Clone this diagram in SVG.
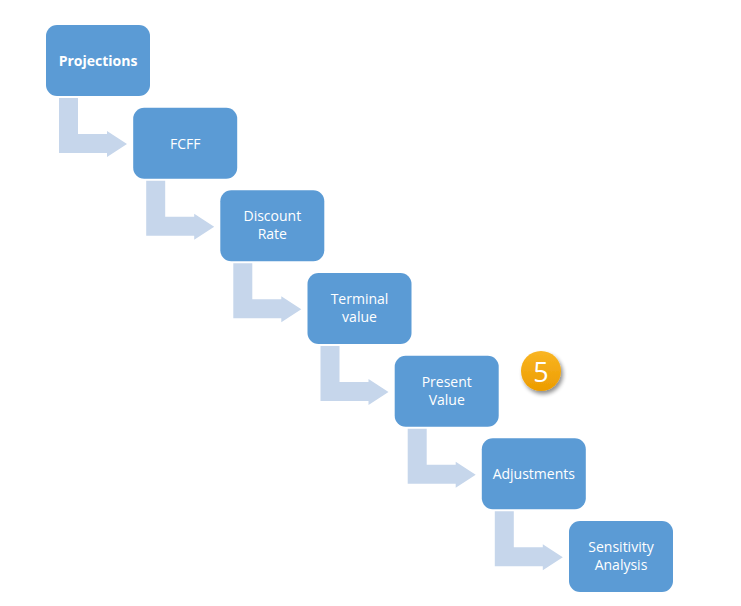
<svg xmlns="http://www.w3.org/2000/svg" width="741" height="606" viewBox="0 0 741 606">
<style>
.box{fill:#5B9BD5}
.arr{fill:#C6D6EB}
.t{font-family:"Open Sans","Liberation Sans",sans-serif;font-size:14px;fill:#FFFFFF;text-anchor:middle;dominant-baseline:central}
.b{font-weight:bold}
.badge{font-family:"Open Sans","Liberation Sans",sans-serif;font-size:27px;fill:#FFFFFF;text-anchor:middle;dominant-baseline:central}
</style>
<defs>
<path id="bent" d="M13,73 H32 V109 H61 V106 L81,119 L61,132 V128 H13 Z"/>
<linearGradient id="og" x1="0" y1="0" x2="0" y2="1">
<stop offset="0" stop-color="#F9B523"/>
<stop offset="1" stop-color="#EC9C00"/>
</linearGradient>
<filter id="sh" x="-50%" y="-50%" width="200%" height="200%">
<feGaussianBlur in="SourceAlpha" stdDeviation="2"/>
<feOffset dx="2" dy="3" result="o"/>
<feComponentTransfer><feFuncA type="linear" slope="0.45"/></feComponentTransfer>
<feMerge><feMergeNode/><feMergeNode in="SourceGraphic"/></feMerge>
</filter>
</defs>
<g id="connectors">
<use href="#bent" class="arr" transform="translate(46,25)"/>
<use href="#bent" class="arr" transform="translate(133.2,107.7)"/>
<use href="#bent" class="arr" transform="translate(220.3,190.3)"/>
<use href="#bent" class="arr" transform="translate(307.5,273)"/>
<use href="#bent" class="arr" transform="translate(394.7,355.7)"/>
<use href="#bent" class="arr" transform="translate(481.8,438.3)"/>
</g>
<g id="n1"><rect class="box" x="46" y="25" width="104" height="71" rx="11"/><text class="t b" x="98" y="60">Projections</text></g>
<g id="n2"><rect class="box" x="133.2" y="107.7" width="104" height="71" rx="11"/><text class="t" x="185.2" y="143.2">FCFF</text></g>
<g id="n3"><rect class="box" x="220.3" y="190.3" width="104" height="71" rx="11"/><text class="t" x="272.3" y="215.8">Discount</text><text class="t" x="272.3" y="233.8">Rate</text></g>
<g id="n4"><rect class="box" x="307.5" y="273" width="104" height="71" rx="11"/><text class="t" x="359.5" y="298.5">Terminal</text><text class="t" x="359.5" y="316.5">value</text></g>
<g id="n5"><rect class="box" x="394.7" y="355.7" width="104" height="71" rx="11"/><text class="t" x="446.7" y="381.2">Present</text><text class="t" x="446.7" y="399.2">Value</text></g>
<g id="n6"><rect class="box" x="481.8" y="438.3" width="104" height="71" rx="11"/><text class="t" x="533.8" y="473.8">Adjustments</text></g>
<g id="n7"><rect class="box" x="569" y="521" width="104" height="71" rx="11"/><text class="t" x="621" y="546.5">Sensitivity</text><text class="t" x="621" y="564.5">Analysis</text></g>
<g id="badge"><circle cx="541" cy="371" r="20" fill="url(#og)" filter="url(#sh)"/><text class="badge" x="541" y="371">5</text></g>
</svg>
